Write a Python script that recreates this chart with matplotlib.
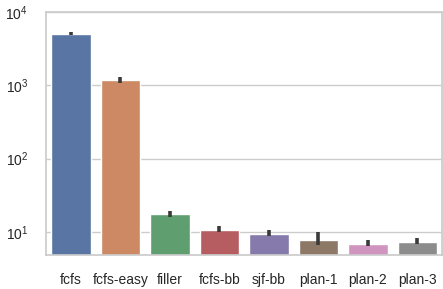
import matplotlib
matplotlib.use("Agg")
import matplotlib.pyplot as plt
import seaborn as sns
import numpy as np

sns.set_theme(style="whitegrid")
plt.rcParams['font.family'] = ['Liberation Sans', 'DejaVu Sans']

# значения
schedulers = ['fcfs', 'fcfs-easy', 'filler', 'fcfs-bb', 'sjf-bb', 'plan-1', 'plan-2', 'plan-3']
means = [5090, 1170, 17.4, 10.6, 9.5, 7.85, 6.9, 7.3]
err_low = [4900, 1080, 15.9, 10.0, 8.8, 6.6, 6.4, 6.8]
err_high = [5300, 1290, 19.1, 12.1, 10.6, 10.1, 7.7, 8.3]

colors = [sns.desaturate(c, 0.75) for c in sns.color_palette("deep", len(schedulers))]

fig = plt.figure(figsize=(4.43, 2.89), dpi=100)
ax = fig.add_axes([0.104, 0.118, 0.894, 0.84])

x = np.arange(len(schedulers))
yerr = [np.array(means) - np.array(err_low), np.array(err_high) - np.array(means)]
ax.bar(x, means, width=0.8, color=colors, zorder=2)
ax.errorbar(x, means, yerr=yerr, fmt='none', ecolor='#3a3a3a', elinewidth=2.6, zorder=3)

ax.set_yscale('log')
ax.set_ylim(4.86, 1e4)
ax.set_xlim(-0.5, len(schedulers) - 0.5)
ax.set_xticks(x)
ax.set_xticklabels(schedulers)
ax.xaxis.grid(False)
ax.tick_params(axis='both', labelsize=10, pad=7)
ax.minorticks_off()

fig.savefig('out.png', dpi=100)
